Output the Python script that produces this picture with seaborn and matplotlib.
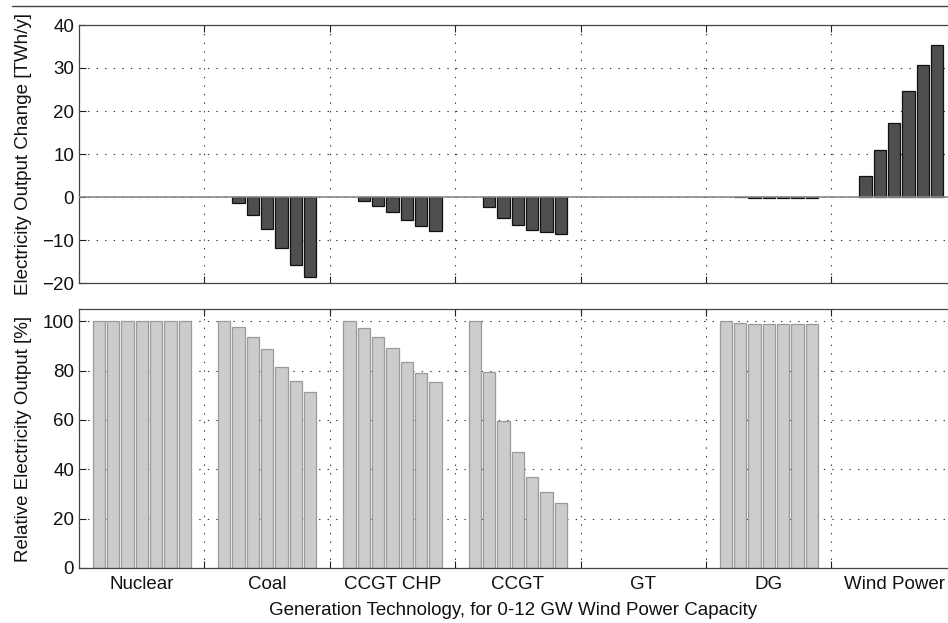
import numpy as np
import pandas as pd
import matplotlib
matplotlib.use("Agg")
import matplotlib.pyplot as plt
from matplotlib.lines import Line2D
import seaborn as sns

# Generation technologies and installed wind capacity steps (GW)
technologies = ["Nuclear", "Coal", "CCGT CHP", "CCGT", "GT", "DG", "Wind Power"]
wind_capacity = [0, 2, 4, 6, 8, 10, 12]

# Change in annual electricity output [TWh/y] per technology
change_nuclear = [0, 0, 0, 0, 0, 0, 0]
change_coal = [0, -1.5, -4.2, -7.4, -11.9, -15.8, -18.7]
change_ccgt_chp = [0, -0.9, -2.1, -3.5, -5.3, -6.7, -7.9]
change_ccgt = [0, -2.4, -4.9, -6.4, -7.6, -8.1, -8.7]
change_gt = [0, 0, 0, 0, 0, 0, 0]
change_dg = [0, -0.05, -0.15, -0.15, -0.2, -0.2, -0.2]
change_wind = [0, 4.8, 10.9, 17.1, 24.7, 30.6, 35.3]

# Relative electricity output [%] per technology
rel_nuclear = [100, 100, 100, 100, 100, 100, 100]
rel_coal = [100, 97.8, 93.6, 88.7, 81.4, 75.9, 71.3]
rel_ccgt_chp = [100, 97.3, 93.6, 89.2, 83.5, 79.0, 75.5]
rel_ccgt = [100, 79.5, 59.7, 47.1, 36.9, 31.0, 26.4]
rel_gt = [0, 0, 0, 0, 0, 0, 0]
rel_dg = [100, 99.3, 99.0, 99.0, 98.9, 98.9, 98.9]
rel_wind = [0, 0, 0, 0, 0, 0, 0]

change_series = [change_nuclear, change_coal, change_ccgt_chp, change_ccgt,
                 change_gt, change_dg, change_wind]
rel_series = [rel_nuclear, rel_coal, rel_ccgt_chp, rel_ccgt,
              rel_gt, rel_dg, rel_wind]


def long_table(series):
    rows = []
    for tech, vals in zip(technologies, series):
        for cap, v in zip(wind_capacity, vals):
            rows.append({"tech": tech, "cap": f"{cap} GW", "value": v})
    return pd.DataFrame(rows)


df_change = long_table(change_series)
df_rel = long_table(rel_series)
hue_order = [f"{c} GW" for c in wind_capacity]

sns.set_style("white")
plt.rcParams["font.family"] = ["Liberation Sans", "DejaVu Sans"]
FS = 13.5
plt.rcParams["font.size"] = FS

W, H = 948, 623
fig = plt.figure(figsize=(W / 100, H / 100), dpi=100)

left_px, right_px = 79, 956.8
ax_top = fig.add_axes([left_px / W, 1 - 283 / H, (right_px - left_px) / W, 258 / H])
ax_bot = fig.add_axes([left_px / W, 1 - 568 / H, (right_px - left_px) / W, 259 / H])

sns.barplot(data=df_change, x="tech", y="value", hue="cap", order=technologies,
            hue_order=hue_order, palette=["#4f4f4f"] * 7, dodge=True,
            width=0.8, gap=0.14, errorbar=None, legend=False,
            edgecolor="#111111", linewidth=0.9, saturation=1, ax=ax_top)
sns.barplot(data=df_rel, x="tech", y="value", hue="cap", order=technologies,
            hue_order=hue_order, palette=["#cccccc"] * 7, dodge=True,
            width=0.8, gap=0.14, errorbar=None, legend=False,
            edgecolor="#9a9a9a", linewidth=0.9, saturation=1, ax=ax_bot)

# Zero-height bars leave no outline on the baseline
for ax in (ax_top, ax_bot):
    for p in ax.patches:
        if p.get_height() == 0:
            p.set_edgecolor("none")

boundaries = np.arange(0.5, len(technologies) - 0.5, 1.0)
grid_style = dict(color="#333333", linestyle=(0, (1.2, 6.5)), linewidth=0.8)

for ax, ylim, yticks in [(ax_top, (-20, 40), np.arange(-20, 41, 10)),
                         (ax_bot, (0, 105), np.arange(0, 101, 20))]:
    ax.set_xlim(-0.5, len(technologies) - 0.5)
    ax.set_ylim(*ylim)
    ax.set_yticks(yticks)
    ax.set_xticks(boundaries)
    ax.set_xticks(np.arange(len(technologies)), minor=True)
    ax.set_axisbelow(True)
    ax.grid(True, which="major", **grid_style)
    ax.tick_params(which="major", direction="in", length=5, width=0.8,
                   top=True, right=True, bottom=True, left=True,
                   color="#222222", labelsize=FS, labelcolor="#111111",
                   labelbottom=False)
    ax.tick_params(which="minor", length=0, labelsize=FS, labelcolor="#111111",
                   pad=6)
    for s in ax.spines.values():
        s.set_visible(True)
        s.set_color("#444444")
        s.set_linewidth(0.9)
    ax.set_xlabel("")

ax_top.tick_params(which="minor", labelbottom=False)
ax_top.axhline(0, color="#8a8a8a", linewidth=1.2, zorder=4)

ax_bot.set_xticklabels(technologies, minor=True)
ax_bot.set_xticklabels([])

ax_top.set_ylabel("Electricity Output Change [TWh/y]", fontsize=FS, color="#111111")
ax_bot.set_ylabel("Relative Electricity Output [%]", fontsize=FS, color="#111111")
ax_top.yaxis.set_label_coords(-0.053, 0.5)
ax_bot.yaxis.set_label_coords(-0.053, 0.5)
ax_bot.set_xlabel("Generation Technology, for 0-12 GW Wind Power Capacity",
                  fontsize=FS, color="#111111")
ax_bot.xaxis.set_label_coords(0.494, -0.131)

# Thin rule across the top of the figure
fig.add_artist(Line2D([12 / W, 1.0], [1 - 6 / H, 1 - 6 / H],
                      transform=fig.transFigure, color="#444444", linewidth=1.0))

fig.savefig("out.png", dpi=100)
